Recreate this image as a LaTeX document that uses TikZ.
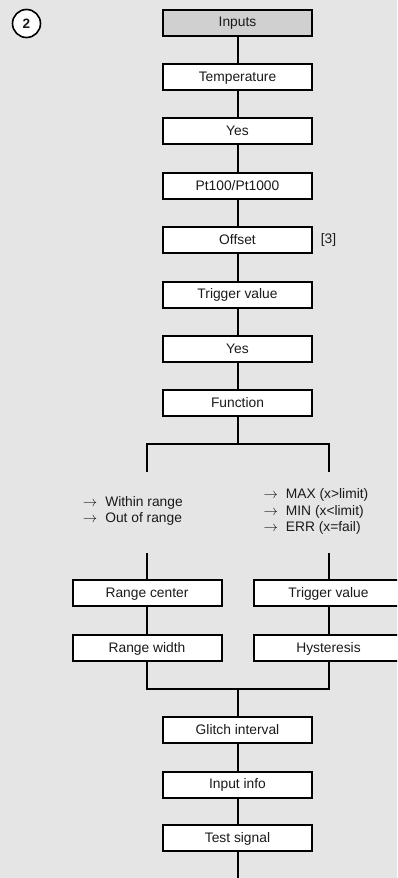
\documentclass[tikz,border=0pt]{standalone}
\usepackage{fontspec}
\setmainfont{Liberation Sans}
\definecolor{bg}{HTML}{E5E5E5}
\definecolor{hdr}{HTML}{D0D0D0}
\definecolor{txt}{HTML}{1A1A1A}
\begin{document}
\begin{tikzpicture}[x=1pt,y=-1pt,
  font=\fontsize{13.8}{16.5}\selectfont,
  box/.style={draw=black,line width=2pt,fill=white,minimum width=149pt,minimum height=26pt,inner sep=0pt,text=txt,text height=9.8pt,text depth=1pt},
  hbox/.style={box,fill=hdr},
  conn/.style={line width=2pt,draw=black},
  lbl/.style={text=txt,inner sep=0pt,anchor=west,align=left}]
\useasboundingbox (0,0) rectangle (397,878);
\fill[bg] (0,0) rectangle (397,878);
\begin{scope}
\clip (0,0) rectangle (397,878);
% nodes
\node[hbox] (inputs) at (237.5,22.5) {Inputs};
\node[box] (temp) at (237.5,76.9) {Temperature};
\node[box] (yes1) at (237.5,131.3) {Yes};
\node[box] (pt) at (237.5,185.7) {Pt100/Pt1000};
\node[box] (offset) at (237.5,240.1) {Offset};
\node[box] (trig) at (237.5,294.5) {Trigger value};
\node[box] (yes2) at (237.5,348.9) {Yes};
\node[box] (func) at (237.5,403.3) {Function};
\node[box] (rc) at (147,593.3) {Range center};
\node[box] (rw) at (147,648.3) {Range width};
\node[box] (tv) at (328.5,593.3) {Trigger value};
\node[box] (hy) at (328.5,648.3) {Hysteresis};
\node[box] (gl) at (237.5,729.8) {Glitch interval};
\node[box] (ii) at (237.5,784.5) {Input info};
\node[box] (ts) at (237.5,838.3) {Test signal};
\end{scope}
% coordinates
\coordinate (bsplit) at (237.5,444.3);
\coordinate (bl) at (147,444.3);
\coordinate (br) at (328.5,444.3);
\coordinate (blend) at (147,471);
\coordinate (brend) at (328.5,471);
\coordinate (blstart) at (147,553);
\coordinate (brstart) at (328.5,553);
\coordinate (mrg) at (237.5,688.7);
\coordinate (mrgl) at (147,688.7);
\coordinate (mrgr) at (328.5,688.7);
\coordinate (endc) at (237.5,878);
% connectors
\draw[conn] (inputs.south) -- (temp.north);
\draw[conn] (temp.south) -- (yes1.north);
\draw[conn] (yes1.south) -- (pt.north);
\draw[conn] (pt.south) -- (offset.north);
\draw[conn] (offset.south) -- (trig.north);
\draw[conn] (trig.south) -- (yes2.north);
\draw[conn] (yes2.south) -- (func.north);
\draw[conn] (func.south) -- (bsplit);
\draw[conn,line cap=rect] (blend) -- (bl) -- (br) -- (brend);
\draw[conn] (blstart) -- (rc.north);
\draw[conn] (brstart) -- (tv.north);
\draw[conn] (rc.south) -- (rw.north);
\draw[conn] (tv.south) -- (hy.north);
\draw[conn,line cap=rect] (rw.south) -- (mrgl) -- (mrgr) -- (hy.south);
\draw[conn] (mrg) -- (gl.north);
\draw[conn] (gl.south) -- (ii.north);
\draw[conn] (ii.south) -- (ts.north);
\draw[conn] (ts.south) -- (endc);
% labels
\node[lbl] (ref3) at (320.7,240.1) {[3]};
\node[lbl] (lefttxt) at (82.7,511) {$\rightarrow$\hspace{8pt}Within range\\$\rightarrow$\hspace{8pt}Out of range};
\node[lbl] (righttxt) at (263.3,511.5) {$\rightarrow$\hspace{8pt}MAX (x>limit)\\$\rightarrow$\hspace{8pt}MIN (x<limit)\\$\rightarrow$\hspace{8pt}ERR (x=fail)};
\node[draw=black,line width=1.6pt,circle,fill=white,minimum size=28pt,inner sep=0pt,text=txt,font=\fontsize{13.6}{16}\selectfont\bfseries] (num) at (26.5,23.5) {2};
\end{tikzpicture}
\end{document}
